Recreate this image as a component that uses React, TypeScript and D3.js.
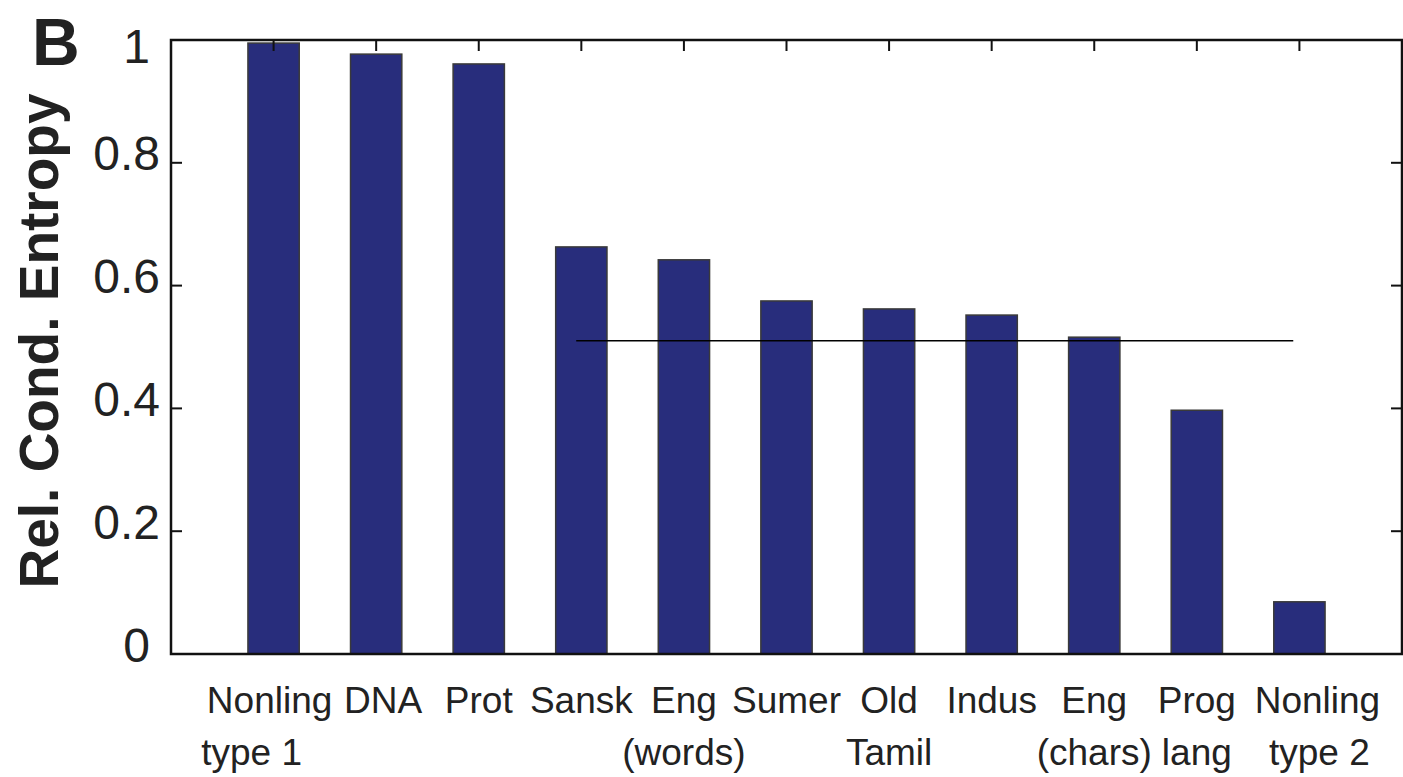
import React from "react";
import { scaleLinear } from "d3";

// categories, two lines each
const labelTop = ["Nonling", "DNA", "Prot", "Sansk", "Eng", "Sumer", "Old", "Indus", "Eng", "Prog", "Nonling"];
const labelBottom = ["type 1", "", "", "", "(words)", "", "Tamil", "", "(chars)", "lang", "type 2"];
const entropy = [0.995, 0.977, 0.961, 0.663, 0.642, 0.575, 0.562, 0.552, 0.516, 0.397, 0.085];
const yTicks = [0, 0.2, 0.4, 0.6, 0.8, 1];
const refLine = { from: 3.95, to: 10.94, value: 0.51 };

const W = 1403;
const H = 777;
const font = "'Liberation Sans', Arial, Helvetica, sans-serif";

export default function App() {
  const x = scaleLinear().domain([0, entropy.length + 1]).range([171, 1402]);
  const y = scaleLinear().domain([0, 1]).range([654, 40]);
  const step = x(1) - x(0);
  const barW = step * 0.5;
  const [x0, x1] = x.range();
  const [y0, y1] = y.range();
  const tickLen = 11;

  return (
    <svg width={W} height={H} style={{ position: "absolute", left: 0, top: 0, background: "#fff" }}>
      {/* bars */}
      {entropy.map((v, i) => (
        <rect
          key={i}
          x={x(i + 1) - barW / 2}
          y={y(v)}
          width={barW}
          height={y(0) - y(v)}
          fill="#282d7c"
          stroke="#3a3a3a"
          strokeWidth={1.5}
        />
      ))}

      {/* reference line */}
      <line x1={x(refLine.from)} x2={x(refLine.to)} y1={y(refLine.value)} y2={y(refLine.value)} stroke="#000" strokeWidth={1.5} />

      {/* box and ticks */}
      <rect x={x0} y={y1} width={x1 - x0} height={y0 - y1} fill="none" stroke="#111" strokeWidth={2.5} />
      {yTicks.map((t) => {
        const whole = t === 0 || t === 1;
        return (
          <g key={t}>
            <line x1={x0} x2={x0 + tickLen} y1={y(t)} y2={y(t)} stroke="#111" strokeWidth={2} />
            <line x1={x1} x2={x1 - tickLen} y1={y(t)} y2={y(t)} stroke="#111" strokeWidth={2} />
            <text
              x={whole ? 150 : 160}
              y={Math.max(y(t) - 9, 46)}
              dominantBaseline="central"
              textAnchor="end"
              fontFamily={font}
              fontSize={48}
              fill="#222"
            >
              {whole ? String(t) : t.toFixed(1)}
            </text>
          </g>
        );
      })}
      {entropy.map((_, i) => (
        <line key={i} x1={x(i + 1)} x2={x(i + 1)} y1={y1} y2={y1 + tickLen} stroke="#111" strokeWidth={2} />
      ))}

      {/* category labels */}
      {labelTop.map((l, i) => (
        <g key={i} fontFamily={font} fontSize={37} fill="#222" textAnchor="middle">
          <text x={x(i + 1) + (i === 0 ? -4 : i === 1 ? 7 : i === 10 ? 18 : 0)} y={713}>{l}</text>
          <text x={x(i + 1) + (i === 0 ? -22 : i === 10 ? 20 : 0)} y={765}>{labelBottom[i]}</text>
        </g>
      ))}

      {/* axis title and panel letter */}
      <text
        transform={`translate(58, 341) rotate(-90)`}
        textAnchor="middle"
        fontFamily={font}
        fontWeight="bold"
        fontSize={55}
        fill="#222"
      >
        Rel. Cond. Entropy
      </text>
      <text x={32} y={65} fontFamily={font} fontWeight="bold" fontSize={66} fill="#222">
        B
      </text>
    </svg>
  );
}
